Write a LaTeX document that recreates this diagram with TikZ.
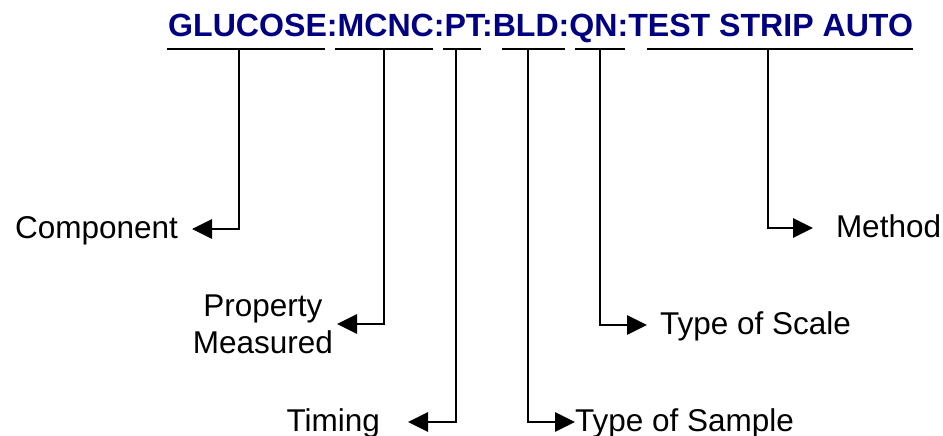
\documentclass[tikz,border=0pt]{standalone}
\usepackage{fontspec}
\setmainfont{Liberation Sans}
\usetikzlibrary{arrows.meta}
\definecolor{titleblue}{RGB}{0,0,128}
\tikzset{
  lblbase/.style={font=\fontsize{31.5}{37}\selectfont, text=black, inner ysep=0pt, outer sep=0pt},
  lbl/.style={lblbase, text height=18pt, text depth=0pt},
  bar/.style={line width=2.8pt, black},
  conn/.style={line width=2.8pt, black, -{Triangle[length=20pt 0 0,width=19pt 0 0]}},
}
\begin{document}
\begin{tikzpicture}[x=1pt,y=-1pt]
\useasboundingbox (0,0) rectangle (943,436);
% title
\node[anchor=base west, inner sep=0pt, text=titleblue,
      font=\fontsize{32.1}{36}\selectfont\bfseries] (title) at (168,37)
      {GLUCOSE:MCNC:PT:BLD:QN:TEST STRIP AUTO};
% underline bars
\draw[bar] (167,49) -- (325,49);
\draw[bar] (335,49) -- (433,49);
\draw[bar] (443,49) -- (481,49);
\draw[bar] (502,49) -- (565,49);
\draw[bar] (575,49) -- (625,49);
\draw[bar] (647,49) -- (913,49);
% stem tops
\coordinate (s1) at (239,49);
\coordinate (s2) at (384,49);
\coordinate (s3) at (456,49);
\coordinate (s4) at (528,49);
\coordinate (s5) at (600,49);
\coordinate (s6) at (768,49);
% labels (outer boundary = arrow tip)
\node[lbl, anchor=east, inner xsep=14pt] (comp) at (192,229) {Component};
\node[lblbase, anchor=east, inner xsep=4pt, align=center] (prop) at (337,324) {Property\\Measured};
\node[lbl, anchor=east, inner xsep=28pt] (timing) at (408,422) {Timing};
\node[lbl, anchor=west, inner xsep=0pt] (sample) at (575,422) {Type of Sample};
\node[lbl, anchor=west, inner xsep=13pt] (scale) at (647,325) {Type of Scale};
\node[lbl, anchor=west, inner xsep=23pt] (method) at (813,228) {Method};
% connectors
\draw[conn] (s1) |- (comp.east);
\draw[conn] (s2) |- (prop.east);
\draw[conn] (s3) |- (timing.east);
\draw[conn] (s4) |- (sample.west);
\draw[conn] (s5) |- (scale.west);
\draw[conn] (s6) |- (method.west);
\end{tikzpicture}
\end{document}
